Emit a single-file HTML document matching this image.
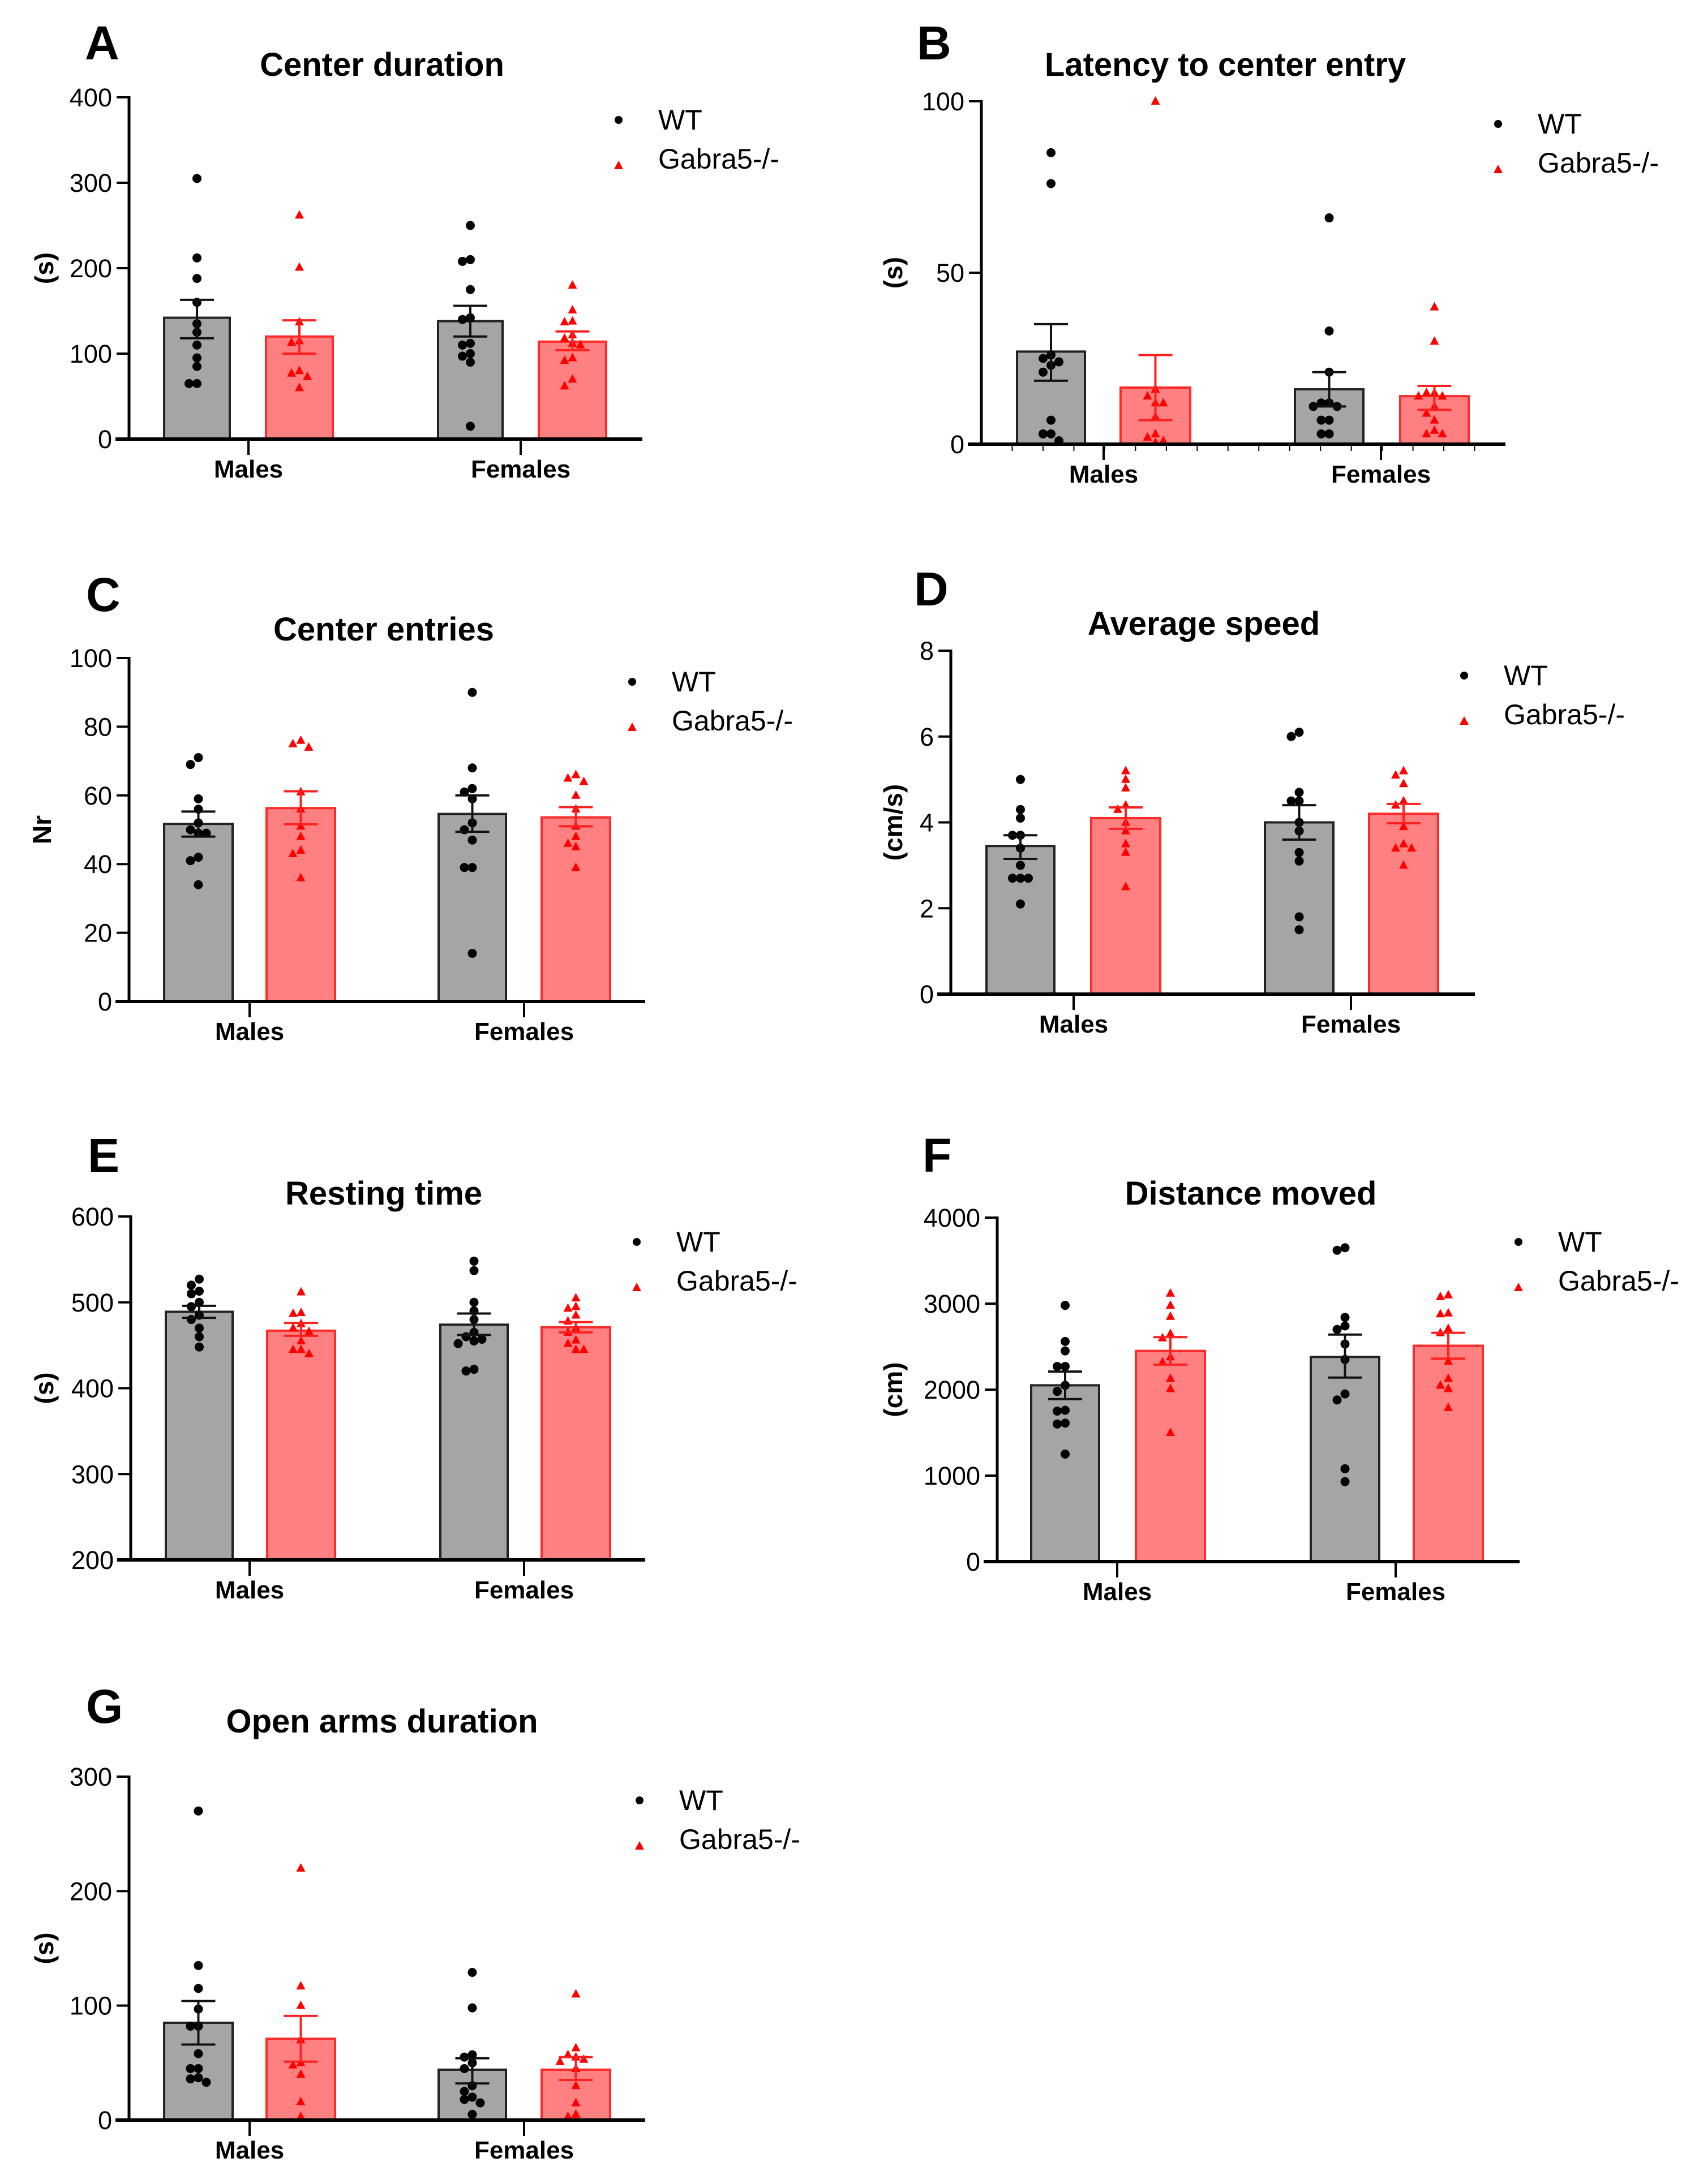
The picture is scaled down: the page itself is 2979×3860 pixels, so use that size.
<!DOCTYPE html>
<html><head><meta charset="utf-8"><style>
html,body{margin:0;padding:0;background:#fff;}
svg{display:block;}
text{font-family:"Liberation Sans",Arial,sans-serif;fill:#000;}
</style></head><body>
<svg id="fig" xmlns="http://www.w3.org/2000/svg" width="2979" height="3860" viewBox="0 0 2979 3860"></svg>
<script>
// ---------- Data ----------
const categories = ["Males", "Females"];
const seriesNames = ["WT", "Gabra5-/-"];

// A: Center duration (s)
const aTicks = [0, 100, 200, 300, 400];
const aMeans = [142, 120, 138, 114];
const aErrHi = [163, 139, 156, 126];
const aErrLo = [118, 100, 120, 104];
const aWtM = [305, 212, 188, 160, 135, 125, 110, 95, 85, 65, 65];
const aKoM = [262, 201, 137, 115, 113, 80, 77, 73, 60];
const aWtF = [250, 210, 208, 175, 142, 140, 112, 110, 100, 97, 90, 15];
const aKoF = [180, 151, 138, 137, 122, 118, 112, 110, 95, 92, 70, 62];

// B: Latency to center entry (s)
const bTicks = [0, 50, 100];
const bMeans = [27, 16.5, 16, 14];
const bErrHi = [35, 26, 21, 17];
const bErrLo = [18.5, 7, 11, 10];
const bWtM = [85, 76, 26, 25, 24, 23, 21, 7, 3, 3, 1];
const bKoM = [100, 16, 14, 12, 12, 8, 3, 2, 1, 0.5];
const bWtF = [66, 33, 21, 12, 12, 11, 11, 7, 7, 3, 3];
const bKoF = [40, 30, 15, 15, 14, 14, 11, 9, 7, 4, 3, 3];

// C: Center entries (Nr)
const cTicks = [0, 20, 40, 60, 80, 100];
const cMeans = [51.7, 56.3, 54.6, 53.6];
const cErrHi = [55.3, 61.2, 60, 56.6];
const cErrLo = [48, 51.6, 49.4, 51];
const cWtM = [71, 69, 59, 56, 52, 50, 49, 49, 42, 41, 34];
const cKoM = [76, 75, 74, 61, 56, 51, 48, 44, 43, 36];
const cWtF = [90, 68, 62, 61, 59, 52, 50, 47, 39, 39, 14];
const cKoF = [66, 65, 64, 60, 56, 51, 48, 46, 45, 39];

// D: Average speed (cm/s)
const dTicks = [0, 2, 4, 6, 8];
const dMeans = [3.45, 4.1, 4.0, 4.2];
const dErrHi = [3.7, 4.35, 4.4, 4.43];
const dErrLo = [3.15, 3.85, 3.6, 3.98];
const dWtM = [5.0, 4.3, 4.1, 3.7, 3.7, 3.4, 3.0, 2.7, 2.7, 2.7, 2.1];
const dKoM = [5.2, 5.0, 4.8, 4.4, 4.3, 4.0, 3.8, 3.5, 3.3, 2.5];
const dWtF = [6.1, 6.0, 4.7, 4.5, 4.5, 4.0, 3.8, 3.3, 3.1, 1.8, 1.5];
const dKoF = [5.2, 5.1, 4.9, 4.5, 4.4, 3.9, 3.5, 3.4, 3.4, 3.0];

// E: Resting time (s)
const eTicks = [200, 300, 400, 500, 600];
const eMeans = [489, 467, 474, 471];
const eErrHi = [496, 476, 487, 477];
const eErrLo = [482, 461, 462, 465];
const eWtM = [527, 520, 513, 510, 500, 495, 485, 480, 470, 460, 448];
const eKoM = [512, 488, 487, 475, 470, 466, 455, 445, 445, 440];
const eWtF = [548, 537, 500, 490, 480, 465, 460, 457, 455, 452, 422, 420];
const eKoF = [505, 495, 493, 485, 478, 470, 465, 456, 452, 445, 445];

// F: Distance moved (cm)
const fTicks = [0, 1000, 2000, 3000, 4000];
const fMeans = [2050, 2450, 2380, 2510];
const fErrHi = [2210, 2610, 2640, 2660];
const fErrLo = [1890, 2290, 2140, 2360];
const fWtM = [2980, 2560, 2450, 2270, 2270, 2050, 1980, 1760, 1750, 1610, 1600, 1250];
const fKoM = [3120, 2980, 2850, 2650, 2600, 2380, 2320, 2130, 2010, 1500];
const fWtF = [3650, 3620, 2840, 2740, 2700, 2530, 2350, 1950, 1880, 1080, 930];
const fKoF = [3100, 3080, 2890, 2880, 2710, 2660, 2330, 2130, 2050, 2010, 1790];

// G: Open arms duration (s)
const gTicks = [0, 100, 200, 300];
const gMeans = [85, 71, 44, 44];
const gErrHi = [104, 91, 54, 55];
const gErrLo = [66, 51, 32, 35];
const gWtM = [270, 135, 115, 97, 82, 82, 58, 45, 45, 37, 36, 33];
const gKoM = [220, 117, 100, 70, 50, 48, 40, 16, 3];
const gWtF = [129, 98, 57, 55, 50, 45, 30, 25, 20, 18, 15, 5];
const gKoF = [110, 63, 57, 55, 53, 51, 45, 30, 15, 5, 3];

// ---------- Rendering ----------
const NS = "http://www.w3.org/2000/svg";
const svg = document.getElementById("fig");
function mk(tag, attrs, parent) {
  const e = document.createElementNS(NS, tag);
  for (const k in attrs) e.setAttribute(k, attrs[k]);
  (parent || svg).appendChild(e);
  return e;
}

const panels = [
  {id:"a", letter:"A", title:"Center duration", ylab:"(s)", ticks:aTicks, means:aMeans, hi:aErrHi, lo:aErrLo, pts:[aWtM,aKoM,aWtF,aKoF],
   ax:228, yTop:172, yBot:776, xEnd:1135, bars:[[290,406],[470,588],[774,888],[952,1071]], cat:[439,920], titleX:675, titleY:134, letterX:150, letterY:105, legX:1093, legY:212, ylabX:78, minor:false},
  {id:"b", letter:"B", title:"Latency to center entry", ylab:"(s)", ticks:bTicks, means:bMeans, hi:bErrHi, lo:bErrLo, pts:[bWtM,bKoM,bWtF,bKoF],
   ax:1734, yTop:179, yBot:785, xEnd:2660, bars:[[1797,1917],[1980,2103],[2288,2409],[2474,2595]], cat:[1950,2440], titleX:2165, titleY:134, letterX:1620, letterY:105, legX:2647, legY:219, ylabX:1578, minor:true},
  {id:"c", letter:"C", title:"Center entries", ylab:"Nr", ticks:cTicks, means:cMeans, hi:cErrHi, lo:cErrLo, pts:[cWtM,cKoM,cWtF,cKoF],
   ax:228, yTop:1163, yBot:1770, xEnd:1140, bars:[[290,411],[471,592],[775,894],[957,1078]], cat:[441,926], titleX:678, titleY:1132, letterX:152, letterY:1080, legX:1117, legY:1205, ylabX:74, minor:false},
  {id:"d", letter:"D", title:"Average speed", ylab:"(cm/s)", ticks:dTicks, means:dMeans, hi:dErrHi, lo:dErrLo, pts:[dWtM,dKoM,dWtF,dKoF],
   ax:1680, yTop:1150, yBot:1757, xEnd:2606, bars:[[1743,1863],[1928,2050],[2235,2356],[2419,2541]], cat:[1897,2387], titleX:2127, titleY:1122, letterX:1615, letterY:1070, legX:2587, legY:1194, ylabX:1578, minor:false},
  {id:"e", letter:"E", title:"Resting time", ylab:"(s)", ticks:eTicks, means:eMeans, hi:eErrHi, lo:eErrLo, pts:[eWtM,eKoM,eWtF,eKoF],
   ax:231, yTop:2150, yBot:2757, xEnd:1140, bars:[[293,411],[472,592],[778,897],[957,1078]], cat:[441,926], titleX:678, titleY:2129, letterX:155, letterY:2071, legX:1125, legY:2195, ylabX:78, minor:false},
  {id:"f", letter:"F", title:"Distance moved", ylab:"(cm)", ticks:fTicks, means:fMeans, hi:fErrHi, lo:fErrLo, pts:[fWtM,fKoM,fWtF,fKoF],
   ax:1762, yTop:2152, yBot:2760, xEnd:2685, bars:[[1822,1942],[2007,2129],[2316,2437],[2498,2620]], cat:[1974,2466], titleX:2210, titleY:2129, letterX:1630, letterY:2071, legX:2683, legY:2195, ylabX:1578, minor:false},
  {id:"g", letter:"G", title:"Open arms duration", ylab:"(s)", ticks:gTicks, means:gMeans, hi:gErrHi, lo:gErrLo, pts:[gWtM,gKoM,gWtF,gKoF],
   ax:228, yTop:3140, yBot:3747, xEnd:1140, bars:[[290,411],[471,592],[775,894],[957,1078]], cat:[441,926], titleX:675, titleY:3062, letterX:152, letterY:3045, legX:1130, legY:3182, ylabX:78, minor:false}
];

function drawPanel(p) {
  const g = mk("g", {});
  
  
  const t0 = p.ticks[0], t1 = p.ticks[p.ticks.length - 1];
  const y = v => p.yBot - (v - t0) / (t1 - t0) * (p.yBot - p.yTop);

  const L = mk("text", {x:p.letterX, y:p.letterY, "font-size":84, "font-weight":"bold"}, g);
  L.textContent = p.letter;
  
  
  const T = mk("text", {x:p.titleX, y:p.titleY, "font-size":58, "font-weight":"bold", "text-anchor":"middle"}, g);
  T.textContent = p.title;
  
  
  const ym = (p.yTop + p.yBot) / 2;
  const Y = mk("text", {x:p.ylabX, y:ym, "font-size":46, "font-weight":"bold", "text-anchor":"middle", transform:"rotate(-90 " + (p.ylabX) + " " + ym + ")", dy:"16"}, g);
  Y.textContent = p.ylab;
  
  

  for (let i = 0; i < 4; i++) {
    const [x0, x1] = p.bars[i];
    const red = i % 2 === 1;
    const top = y(p.means[i]);
    const r = mk("rect", {x:x0, y:top, width:x1 - x0, height:p.yBot - top,
      fill: red ? "#ff8080" : "#a5a5a8", stroke: red ? "#ff2a2a" : "#222", "stroke-width":4}, g);
    
    
  }
  for (let i = 0; i < 4; i++) {
    const [x0, x1] = p.bars[i];
    const cx = (x0 + x1) / 2;
    const red = i % 2 === 1;
    const placed = [];
    const offs = [0, -14, 14, -28, 28, -42, 42];
    const vals = p.pts[i].slice().sort((a, b) => b - a);
    vals.forEach(v => {
      const py = y(v);
      let ox = 0;
      for (const o of offs) {
        if (!placed.some(q => Math.hypot(q[0] - (cx + o), q[1] - py) < 14)) { ox = o; break; }
      }
      placed.push([cx + ox, py]);
      let m;
      if (red) {
        const px = cx + ox;
        m = mk("polygon", {points:(px) + "," + (py - 9) + " " + (px - 8) + "," + (py + 6) + " " + (px + 8) + "," + (py + 6), fill:"#ff0000"}, g);
      } else {
        m = mk("circle", {cx:cx + ox, cy:py, r:8, fill:"#000"}, g);
      }
      
      
    });
  }
  for (let i = 0; i < 4; i++) {
    const [x0, x1] = p.bars[i];
    const cx = (x0 + x1) / 2;
    const col = i % 2 === 1 ? "#ff2020" : "#111";
    const eg = mk("g", {stroke:col, "stroke-width":4, fill:"none"}, g);
    
    
    mk("line", {x1:cx, x2:cx, y1:y(p.hi[i]), y2:y(p.lo[i])}, eg);
    mk("line", {x1:cx - 30, x2:cx + 30, y1:y(p.hi[i]), y2:y(p.hi[i])}, eg);
    mk("line", {x1:cx - 30, x2:cx + 30, y1:y(p.lo[i]), y2:y(p.lo[i])}, eg);
  }

  const ya = mk("line", {x1:p.ax, x2:p.ax, y1:p.yTop - 2, y2:p.yBot, stroke:"#000", "stroke-width":5}, g);
  
  
  const xa = mk("line", {x1:p.ax - 24, x2:p.xEnd, y1:p.yBot, y2:p.yBot, stroke:"#000", "stroke-width":6}, g);
  
  
  p.ticks.forEach(tv => {
    const ty = y(tv);
    mk("line", {x1:p.ax - 22, x2:p.ax, y1:ty, y2:ty, stroke:"#000", "stroke-width":4}, g);
    const tl = mk("text", {x:p.ax - 30, y:ty + 16, "font-size":45, "text-anchor":"end"}, g);
    tl.textContent = String(tv);
    
    
  });
  if (p.minor) {
    const step = (p.xEnd - p.ax) / 17;
    for (let k = 1; k < 17; k++) {
      mk("line", {x1:p.ax + k * step, x2:p.ax + k * step, y1:p.yBot, y2:p.yBot + 12, stroke:"#000", "stroke-width":2}, g);
    }
  }
  categories.forEach((c, k) => {
    mk("line", {x1:p.cat[k], x2:p.cat[k], y1:p.yBot, y2:p.yBot + 28, stroke:"#000", "stroke-width":4}, g);
    const cl = mk("text", {x:p.cat[k], y:p.yBot + 68, "font-size":44, "font-weight":"bold", "text-anchor":"middle"}, g);
    cl.textContent = c;
    
    
  });

  const lg = mk("g", {}, g);
  
  
  const d = mk("circle", {cx:p.legX, cy:p.legY, r:7, fill:"#000"}, lg);
  
  
  const t1e = mk("text", {x:p.legX + 70, y:p.legY + 17, "font-size":50}, lg);
  t1e.textContent = seriesNames[0];
  
  
  const ly = p.legY + 81;
  const tri = mk("polygon", {points:p.legX + "," + (ly - 9) + " " + (p.legX - 8) + "," + (ly + 6) + " " + (p.legX + 8) + "," + (ly + 6), fill:"#ff0000"}, lg);
  
  
  const t2e = mk("text", {x:p.legX + 70, y:ly + 5, "font-size":50}, lg);
  t2e.textContent = seriesNames[1];
  
  
}
panels.forEach(drawPanel);
</script>
</body></html>
